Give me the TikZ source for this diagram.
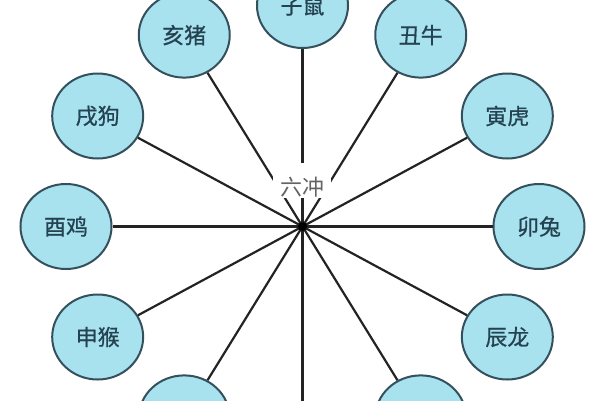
\documentclass[tikz,border=0pt]{standalone}
\usepackage{fontspec}
\setmainfont{Noto Sans CJK SC}
\newfontfamily\zmedfont[FakeBold=0.7]{Noto Sans CJK SC}
\usetikzlibrary{shapes.geometric}
\definecolor{cfill}{RGB}{168,226,238}
\definecolor{cborder}{RGB}{52,80,92}
\definecolor{ctext}{RGB}{36,66,80}
\definecolor{cline}{RGB}{35,35,35}
\definecolor{clabel}{RGB}{100,100,100}
\tikzset{
  zodiac/.style={ellipse, draw=cborder, fill=cfill, line width=2pt,
    minimum width=91pt, minimum height=85pt, inner sep=0pt,
    text=ctext, font=\zmedfont\fontsize{22}{22}\selectfont},
  conn/.style={draw=cline, line width=2.2pt},
  hubbox/.style={fill=white, minimum width=58pt, minimum height=35pt, inner sep=0pt},
  hublabel/.style={text=clabel, inner sep=0pt, font=\fontsize{22}{22}\selectfont},
}
\begin{document}
\begin{tikzpicture}[x=1pt,y=-1pt]
\useasboundingbox (0,0) rectangle (600,400);
\clip (0,0) rectangle (600,400);
\coordinate (hub) at (302.5,226.5);
\foreach \ang/\nm/\txt in {0/zi/子鼠,30/chou/丑牛,60/yin/寅虎,90/mao/卯兔,120/chen/辰龙,
  150/si/{},180/wu/{},210/wei/{},240/shen/申猴,270/you/酉鸡,300/xu/戌狗,330/hai/亥猪}{
  \node[zodiac] (\nm) at ({302.5+236.5*sin(\ang)},{226.5-221*cos(\ang)}) {\txt};
}
\foreach \nm in {zi,chou,yin,mao,chen,si,wu,wei,shen,you,xu,hai}{
  \draw[conn] (hub) -- (\nm);
}
\node[hubbox] (lcbox) at (302,180.5) {};
\node[hublabel] (lc) at (302.5,187.5) {六冲};
\fill[black] (hub) circle (4.5pt);
\end{tikzpicture}
\end{document}
